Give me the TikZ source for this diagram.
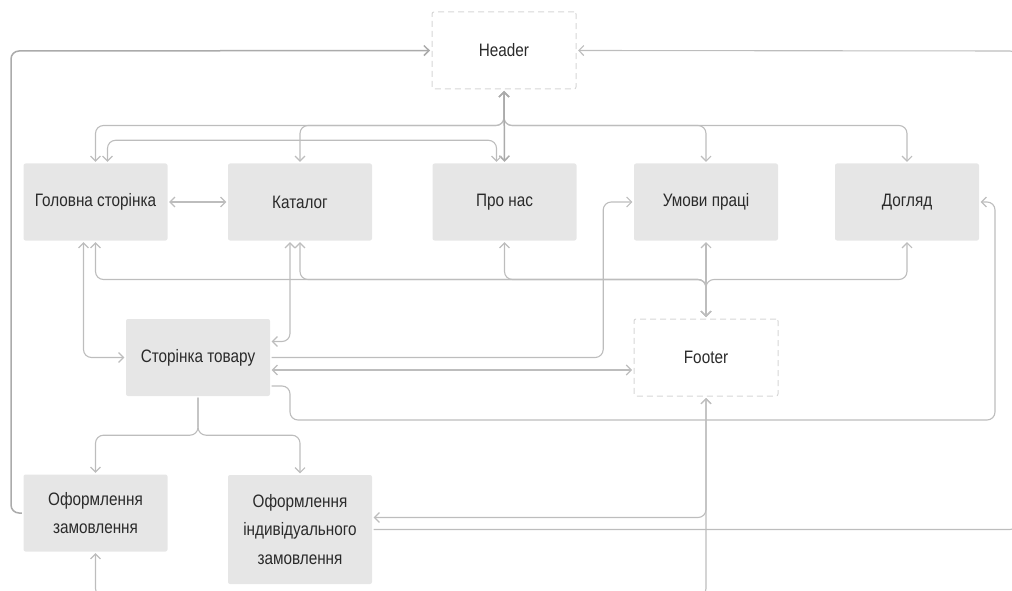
\documentclass[tikz,border=0pt]{standalone}
\usepackage{fontspec}
\setmainfont{Liberation Sans}[FakeStretch=0.85]
\usetikzlibrary{arrows.meta}
\definecolor{boxgray}{HTML}{E6E6E6}
\definecolor{linegray}{HTML}{BDBDBD}
\definecolor{darkline}{HTML}{ABABAB}
\definecolor{dashgray}{HTML}{D6D6D6}
\definecolor{textgray}{HTML}{2A2A2A}

\begin{document}
\begin{tikzpicture}[x=1pt, y=-1pt,
  page/.style={fill=boxgray, rounded corners=2pt, minimum width=144pt, minimum height=77pt,
    inner sep=0pt, align=center, text=textgray, font=\fontsize{18}{28.7}\selectfont},
  frame/.style={page, fill=none, draw=dashgray, line width=1pt, dash pattern=on 6pt off 4pt},
  link/.style={draw=linegray, line width=1.1pt, rounded corners=8pt, shorten >=1.5pt, shorten <=1.5pt,
    >={Straight Barb[length=5pt,width=10pt]}},
  trunk/.style={link, draw=darkline, line width=1.5pt}]
\useasboundingbox (0,0) rectangle (1012,591);
\clip (0,0) rectangle (1012,591);

\node[frame] (header) at (504,50.5) {Header};
\node[page] (home) at (95.5,202) {Головна сторінка};
\node[page] (catalog) at (300,202) {Каталог};
\node[page] (about) at (504.5,202) {Про нас};
\node[page] (terms) at (706,202) {Умови праці};
\node[page] (care) at (907,202) {Догляд};
\node[page] (product) at (198,357.5) {Сторінка товару};
\node[frame] (footer) at (706,357.5) {Footer};
\node[page] (order) at (95.5,513) {Оформлення\\замовлення};
\node[page, minimum height=109pt] (custom) at (300,529.5) {Оформлення\\індивідуального\\замовлення};

\draw[link,<->] (header.south) -- ++(0,36) -| (home.north);
\draw[link,<->] (header.south) -- ++(0,36) -| (catalog.north);
\draw[link,<->] (header.south) -- ++(0,36) -| (terms.north);
\draw[link,<->] (header.south) -- ++(0,36) -| (care.north);
\draw[trunk,<->] (header.south) -- (about.north);
\draw[link,<->] ([xshift=12pt]home.north) -- ++(0,-23) -| ([xshift=-8pt]about.north);
\draw[link,<->] (home) -- (catalog);

\draw[link,<->] (footer.north) -- ++(0,-39) -| (home.south);
\draw[link,<->] (footer.north) -- ++(0,-39) -| (catalog.south);
\draw[link,<->] (footer.north) -- ++(0,-39) -| (about.south);
\draw[link,<->] (footer.north) -- ++(0,-39) -| (care.south);
\draw[link,<->] (footer.north) -- (terms.south);

\draw[link,<->] ([xshift=-12pt]home.south) |- (product.west);
\draw[link,<->] ([xshift=-10pt]catalog.south) |- ([yshift=16pt]product.east);
\draw[link,->] (product.east) -- ++(333,0) |- (terms.west);
\draw[link,<->] ([yshift=-12.5pt]product.east) -- ([yshift=-12.5pt]footer.west);
\draw[link,->] ([yshift=-28.5pt]product.east) -| (290,420) -| (995,202) -- (care.east);

\draw[link,->] (product.south) -- ++(0,39) -| (order.north);
\draw[link,->] (product.south) -- ++(0,39) -| (custom.north);
\draw[link,<->] (footer.south) |- ([yshift=12pt]custom.east);
\draw[link,<->] (footer.south) -- ++(0,200) -| (order.south);

\draw[trunk,->] (order.west) -| (11,51) -- (header.west);
\draw[link,->] (custom.east) -| (1018,51) -- (header.east);
\end{tikzpicture}
\end{document}
